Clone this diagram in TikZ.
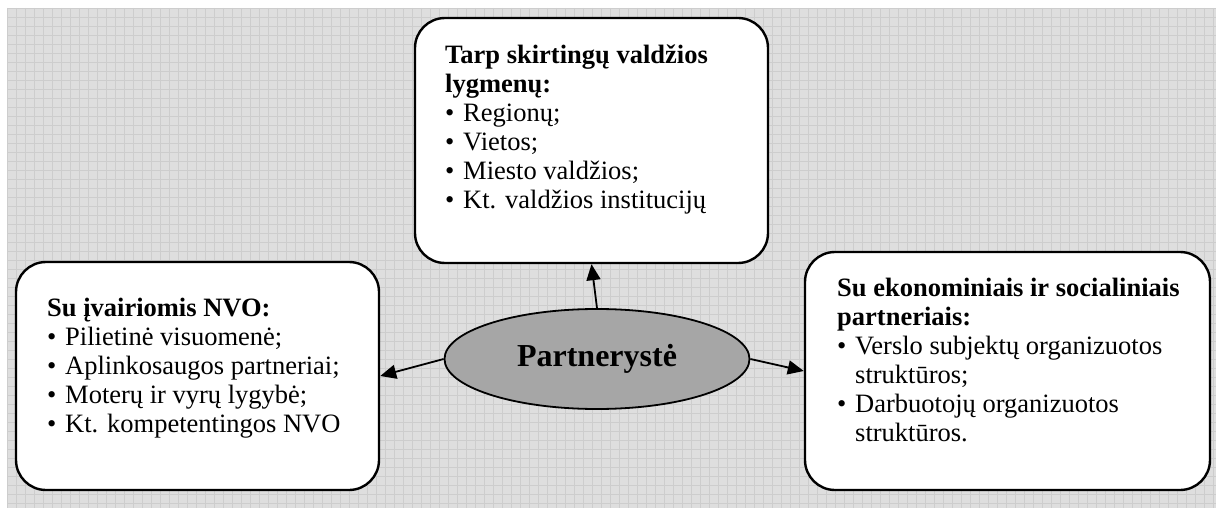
\documentclass[tikz,border=0pt]{standalone}
\usepackage{fontspec}
\setmainfont{Liberation Serif}
\usetikzlibrary{arrows.meta}
\usetikzlibrary{shapes.geometric}

\definecolor{bggray}{RGB}{222,222,222}
\definecolor{gridgray}{RGB}{205,205,205}
\definecolor{ovalgray}{RGB}{166,166,166}

\newcommand{\itm}{\makebox[18pt][l]{\textbullet}}
\newcommand{\cnt}{\hspace*{18pt}}

\begin{document}
\begin{tikzpicture}[x=1pt,y=-1pt,
  box/.style={draw,line width=2.4pt,rounded corners=30pt,fill=white,inner sep=0pt},
  boxtext/.style={anchor=north west,align=left,inner sep=0pt,font=\fontsize{26.5}{29}\selectfont},
  link/.style={line width=1.8pt,-{Triangle[length=16pt,width=14pt]}}]
\useasboundingbox (0,0) rectangle (1216,508);
% background
\fill[bggray] (7,8) rectangle (1216,508);
\foreach \x in {7,16,...,1216} {
 \draw[gridgray, line width=0.7pt] (\x,8) -- (\x,508);
}
\foreach \y in {8,17,...,508} {
 \draw[gridgray, line width=0.7pt] (7,\y) -- (1216,\y);
}
% boxes
\node[box, minimum width=353pt, minimum height=245pt] (tbox) at (591.5,140.5) {};
\node[box, minimum width=363pt, minimum height=228pt] (lbox) at (197.5,376) {};
\node[box, minimum width=405pt, minimum height=238pt] (rbox) at (1007.5,371) {};
\node[boxtext] (ttext) at (445,45) {\textbf{Tarp skirtingų valdžios}\\ \textbf{lygmenų:}\\ \itm Regionų;\\ \itm Vietos;\\ \itm Miesto valdžios;\\ \itm Kt. valdžios institucijų};
\node[boxtext] (ltext) at (47,298) {\textbf{Su įvairiomis NVO:}\\ \itm Pilietinė visuomenė;\\ \itm Aplinkosaugos partneriai;\\ \itm Moterų ir vyrų lygybė;\\ \itm Kt. kompetentingos NVO};
\node[boxtext] (rtext) at (837,278) {\textbf{Su ekonominiais ir socialiniais}\\ \textbf{partneriais:}\\ \itm Verslo subjektų organizuotos\\ \cnt struktūros;\\ \itm Darbuotojų organizuotos\\ \cnt struktūros.};
% centre
\node[ellipse, draw, line width=1.8pt, fill=ovalgray, minimum width=305pt, minimum height=100pt, inner sep=0pt, font=\fontsize{32}{36}\selectfont\bfseries] (part) at (597,359) {Partnerystė};
\draw[link] (part.north) -- (tbox.south);
\draw[link] (part.west) -- (lbox.east);
\draw[link] (part.east) -- (rbox.west);
\end{tikzpicture}
\end{document}
